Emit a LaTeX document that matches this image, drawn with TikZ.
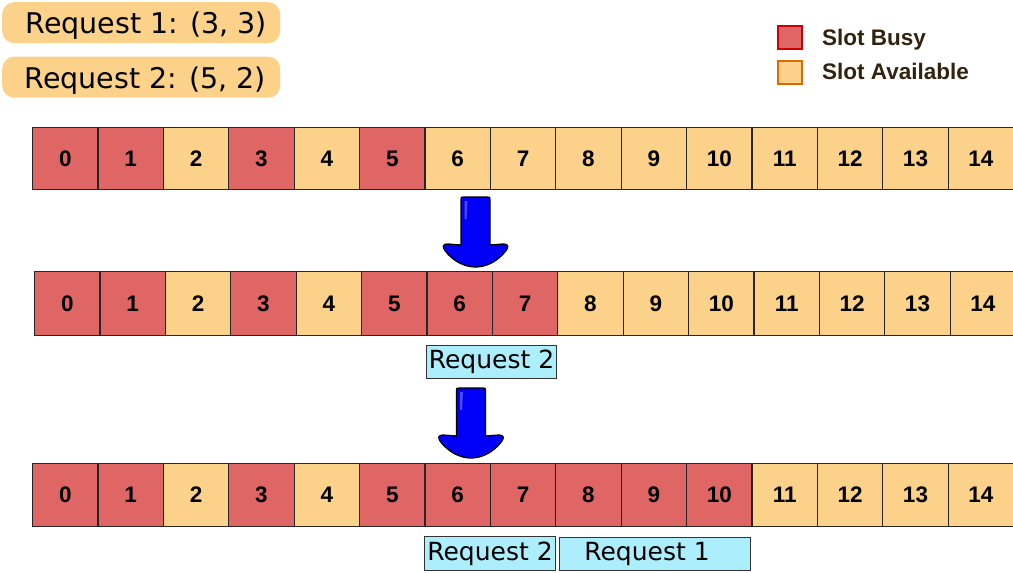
\documentclass[tikz,border=0pt]{standalone}
\usepackage{fontspec}
\setmainfont{DejaVu Sans}
\newfontfamily\lib{Liberation Sans}
\definecolor{busy}{RGB}{224,102,102}
\definecolor{avail}{RGB}{252,210,138}
\definecolor{cyanbox}{RGB}{173,238,252}
\definecolor{legtext}{RGB}{50,35,15}
\definecolor{arrowblue}{RGB}{0,0,250}
\tikzset{
  cell/.style={draw=black!85, line width=1.2pt, minimum width=65.4pt, minimum height=#1, inner sep=0pt, anchor=north west,
    font=\lib\bfseries\fontsize{22.5}{22.5}\selectfont},
  reqbox/.style={fill=avail, rounded corners=12pt, minimum width=278pt, minimum height=41pt, inner sep=0pt, anchor=north west,
    font=\fontsize{28.5}{28.5}\selectfont, text depth=0pt},
  lbl/.style={draw=black!80, line width=1pt, fill=cyanbox, inner sep=0pt, anchor=north west,
    font=\fontsize{25}{25}\selectfont},
  legsq/.style={line width=2pt, minimum width=24pt, minimum height=23pt, inner sep=0pt},
  legtxt/.style={text=legtext, font=\lib\bfseries\fontsize{22.5}{22.5}\selectfont, anchor=west, inner sep=0pt},
  bluearrow/.style={fill=arrowblue, draw=black, line width=1.3pt, line join=round}
}
\newcommand{\downarrowshape}[3]{% cx, top, tip
  \path[bluearrow] (#1-14.5,#2+3) .. controls (#1-14.5,#2) .. (#1-11.5,#2)
    -- (#1+11.5,#2) .. controls (#1+14.5,#2) .. (#1+14.5,#2+3)
    -- (#1+14.5,#3-22) -- (#1+28,#3-23) .. controls (#1+33,#3-23) and (#1+33,#3-20) .. (#1+31,#3-17)
    .. controls (#1+22,#3-5) and (#1+10,#3) .. (#1,#3)
    .. controls (#1-10,#3) and (#1-22,#3-5) .. (#1-31,#3-17)
    .. controls (#1-33,#3-20) and (#1-33,#3-23) .. (#1-28,#3-23)
    -- (#1-14.5,#3-22) -- cycle;
  \fill[white, opacity=0.3] (#1-11,#2+4) -- (#1-8,#2+4) -- (#1-9,#2+22) -- (#1-11,#2+22) -- cycle;
}
\begin{document}
\begin{tikzpicture}[x=1pt,y=-1pt]
\useasboundingbox (0,0) rectangle (1013,573);
% request boxes
\node[reqbox] (req1) at (2,2) {\hspace*{10pt}Request 1: (3, 3)};
\node[reqbox] (req2) at (2,56.5) {\hspace*{8pt}Request 2: (5, 2)};
% legend
\node[legsq, draw=red!80!black, fill=busy] (lbusy) at (790,37.5) {};
\node[legsq, draw=orange!85!black, fill=avail] (lavail) at (790,72) {};
\node[legtxt] (tbusy) at (822,40) {Slot Busy};
\node[legtxt] (tavail) at (822,71) {Slot Available};
% rows
\foreach \i in {0,...,14}{
  \pgfmathsetmacro{\xa}{32+65.4*\i}
  \pgfmathtruncatemacro{\ba}{(\i==0)||(\i==1)||(\i==3)||(\i==5)}
  \ifnum\ba=1 \def\ca{busy}\else\def\ca{avail}\fi
  \node[cell=62pt, fill=\ca] (ra\i) at (\xa,127) {\i};
  \pgfmathsetmacro{\xb}{34+65.4*\i}
  \pgfmathtruncatemacro{\bb}{(\i==0)||(\i==1)||(\i==3)||(\i==5)||(\i==6)||(\i==7)}
  \ifnum\bb=1 \def\cb{busy}\else\def\cb{avail}\fi
  \node[cell=64pt, fill=\cb] (rb\i) at (\xb,271) {\i};
  \pgfmathtruncatemacro{\bc}{(\i==0)||(\i==1)||(\i==3)||(\i>=5 && \i<=10)}
  \ifnum\bc=1 \def\cc{busy}\else\def\cc{avail}\fi
  \node[cell=63pt, fill=\cc] (rc\i) at (\xa,463) {\i};
}
% labels
\node[lbl, minimum width=130pt, minimum height=33pt] (l2a) at (426,345) {Request 2};
\node[lbl, minimum width=131pt, minimum height=34pt] (l2b) at (424,536) {Request 2};
\node[lbl, minimum width=191pt, minimum height=33pt] (l1b) at (559,537) {Request 1\hspace*{16pt}};
% arrows
\downarrowshape{475.5}{197}{267}
\downarrowshape{471}{388}{458}
\end{tikzpicture}
\end{document}
